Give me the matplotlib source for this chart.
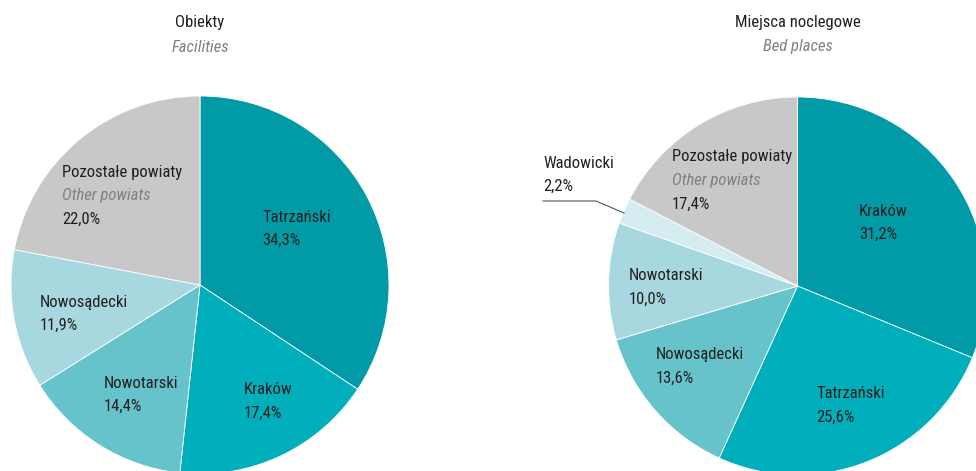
import matplotlib
matplotlib.use("Agg")
import matplotlib.pyplot as plt

plt.rcParams['font.family'] = ['Roboto Condensed', 'Open Sans Condensed', 'Liberation Sans', 'DejaVu Sans']

W, H = 976, 471

# data
facilities_labels = ["Tatrzański", "Kraków", "Nowotarski", "Nowosądecki", "Pozostałe powiaty"]
facilities_values = [34.3, 17.4, 14.4, 11.9, 22.0]

beds_labels = ["Kraków", "Tatrzański", "Nowosądecki", "Nowotarski", "Wadowicki", "Pozostałe powiaty"]
beds_values = [31.2, 25.6, 13.6, 10.0, 2.2, 17.4]

colors_fac = ["#009ba7", "#00afbb", "#66c3cc", "#a8d8df", "#c8c8c8"]
colors_bed = ["#009ba7", "#00afbb", "#66c3cc", "#a8d8df", "#d5edf1", "#c8c8c8"]

dark = "#231f20"
grey = "#808080"


def fmt(v):
    return ("%.1f%%" % v).replace(".", ",")


fig = plt.figure(figsize=(W / 100, H / 100), dpi=100)
ax = fig.add_axes([0, 0, 1, 1])


def py(y):
    # pixel row -> data y
    return H - y


ax.pie(facilities_values, colors=colors_fac, startangle=90, counterclock=False,
       center=(200, py(285)), radius=189, frame=True,
       wedgeprops=dict(edgecolor="white", linewidth=0.6))
ax.pie(beds_values, colors=colors_bed, startangle=90, counterclock=False,
       center=(797.5, py(286)), radius=189, frame=True,
       wedgeprops=dict(edgecolor="white", linewidth=0.6))
ax.set_xlim(0, W)
ax.set_ylim(0, H)
ax.set_aspect("equal")
ax.axis("off")

fs = 12

# titles
ax.text(200, py(23), "Obiekty", ha="center", va="center", fontsize=fs, color=dark)
ax.text(200, py(47), "Facilities", ha="center", va="center", fontsize=fs, color=grey, style="italic")
ax.text(798, py(23), "Miejsca noclegowe", ha="center", va="center", fontsize=fs, color=dark)
ax.text(798, py(47), "Bed places", ha="center", va="center", fontsize=fs, color=grey, style="italic")


def label(x, y, name, value, sub=None):
    ax.text(x, py(y), name, ha="left", va="center", fontsize=fs, color=dark)
    yy = y + 23.5
    if sub:
        ax.text(x, py(yy), sub, ha="left", va="center", fontsize=fs, color=grey, style="italic")
        yy += 23.5
    ax.text(x, py(yy), fmt(value), ha="left", va="center", fontsize=fs, color=dark)


# left pie labels
fac_pos = [(262, 217), (244, 390), (104, 383), (40, 302), (62, 172)]
for (x, y), name, v in zip(fac_pos, facilities_labels, facilities_values):
    label(x, y, name, v, "Other powiats" if name.startswith("Pozostałe") else None)

# right pie labels
bed_pos = [(859, 211), (816, 394), (656, 355), (629, 276), (543, 163), (672, 157)]
for (x, y), name, v in zip(bed_pos, beds_labels, beds_values):
    label(x, y, name, v, "Other powiats" if name.startswith("Pozostałe") else None)

# leader line for Wadowicki
ax.plot([543, 596, 624], [py(201), py(201), py(213)], color="#555555", linewidth=0.8)

fig.savefig("out.png", dpi=100)
